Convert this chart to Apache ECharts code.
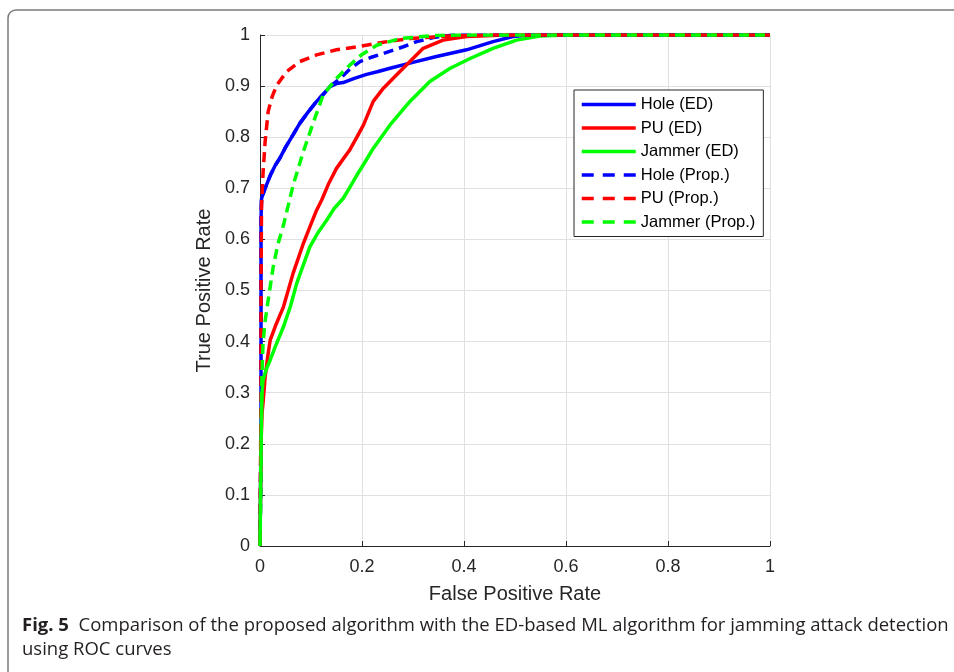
<!DOCTYPE html>
<html>
<head>
<meta charset="utf-8">
<script src="https://cdn.jsdelivr.net/npm/echarts@6.0.0/dist/echarts.min.js"></script>
<style>
  html, body { margin: 0; padding: 0; background: #fff; }
  #chart { width: 954px; height: 672px; }
</style>
</head>
<body>
<div id="chart"></div>
<script>
// ROC curves: [false positive rate, true positive rate]
const holeED = [
  [0, 0], [0.001, 0.1], [0.002, 0.25], [0.002, 0.4], [0.002, 0.55], [0.002, 0.64],
  [0.003, 0.68], [0.01, 0.70], [0.02, 0.725], [0.03, 0.745], [0.039, 0.759],
  [0.05, 0.78], [0.065, 0.805], [0.078, 0.827], [0.095, 0.85], [0.111, 0.87],
  [0.125, 0.885], [0.137, 0.899], [0.15, 0.905], [0.163, 0.907], [0.185, 0.915],
  [0.209, 0.923], [0.23, 0.928], [0.255, 0.935], [0.294, 0.945], [0.346, 0.958],
  [0.405, 0.971], [0.457, 0.987], [0.496, 0.997], [0.53, 1], [1, 1]
];
const puED = [
  [0, 0], [0.001, 0.1], [0.002, 0.2], [0.004, 0.26], [0.006, 0.28], [0.01, 0.33],
  [0.015, 0.37], [0.02, 0.403], [0.03, 0.43], [0.046, 0.468], [0.065, 0.534],
  [0.085, 0.592], [0.098, 0.625], [0.11, 0.655], [0.121, 0.677], [0.135, 0.71],
  [0.15, 0.739], [0.165, 0.76], [0.176, 0.775], [0.19, 0.8], [0.203, 0.824],
  [0.222, 0.87], [0.242, 0.896], [0.268, 0.922], [0.294, 0.948], [0.32, 0.974],
  [0.359, 0.99], [0.405, 0.997], [0.48, 1], [1, 1]
];
const jammerED = [
  [0, 0], [0.001, 0.1], [0.002, 0.2], [0.003, 0.26], [0.004, 0.3], [0.006, 0.325],
  [0.012, 0.345], [0.02, 0.364], [0.03, 0.39], [0.046, 0.429], [0.06, 0.47],
  [0.072, 0.514], [0.085, 0.55], [0.098, 0.586], [0.115, 0.615], [0.131, 0.638],
  [0.145, 0.66], [0.163, 0.68], [0.175, 0.7], [0.19, 0.726], [0.205, 0.75],
  [0.222, 0.778], [0.255, 0.824], [0.294, 0.87], [0.333, 0.909], [0.373, 0.935],
  [0.412, 0.954], [0.457, 0.974], [0.503, 0.99], [0.549, 0.998], [0.6, 1], [1, 1]
];
const holeProp = [
  [0, 0], [0.001, 0.1], [0.002, 0.25], [0.002, 0.4], [0.002, 0.55], [0.002, 0.64],
  [0.003, 0.68], [0.01, 0.70], [0.02, 0.725], [0.03, 0.745], [0.039, 0.759],
  [0.05, 0.78], [0.065, 0.805], [0.078, 0.827], [0.095, 0.85], [0.111, 0.87],
  [0.125, 0.885], [0.137, 0.899], [0.157, 0.915], [0.175, 0.932], [0.196, 0.948],
  [0.22, 0.957], [0.242, 0.964], [0.281, 0.977], [0.307, 0.987], [0.34, 0.995],
  [0.38, 1], [1, 1]
];
const puProp = [
  [0, 0], [0.001, 0.15], [0.002, 0.3], [0.002, 0.5], [0.003, 0.667], [0.006, 0.73],
  [0.01, 0.791], [0.016, 0.85], [0.024, 0.88], [0.033, 0.902], [0.052, 0.928],
  [0.078, 0.948], [0.111, 0.961], [0.15, 0.971], [0.19, 0.977], [0.242, 0.986],
  [0.294, 0.993], [0.373, 0.998], [0.45, 1], [1, 1]
];
const jammerProp = [
  [0, 0], [0.002, 0.15], [0.003, 0.3], [0.005, 0.37], [0.006, 0.397], [0.01, 0.44],
  [0.016, 0.481], [0.026, 0.547], [0.035, 0.59], [0.046, 0.628], [0.055, 0.665],
  [0.065, 0.706], [0.085, 0.772], [0.105, 0.83], [0.124, 0.883], [0.15, 0.915],
  [0.176, 0.941], [0.2, 0.962], [0.229, 0.98], [0.275, 0.993], [0.34, 0.999],
  [0.4, 1], [1, 1]
];

const seriesNames = ["Hole (ED)", "PU (ED)", "Jammer (ED)", "Hole (Prop.)", "PU (Prop.)", "Jammer (Prop.)"];
const seriesData = [holeED, puED, jammerED, holeProp, puProp, jammerProp];
const seriesColors = ["#0000ff", "#ff0000", "#00ff00", "#0000ff", "#ff0000", "#00ff00"];
const seriesDashed = [false, false, false, true, true, true];

const captionBold = "Fig. 5";
const captionLine1 = "Comparison of the proposed algorithm with the ED-based ML algorithm for jamming attack detection";
const captionLine2 = "using ROC curves";

const FONT = "'Liberation Sans', Arial, sans-serif";
const CAPTION_FONT = "'Open Sans', sans-serif";
const AXIS_COLOR = "#262626";

const chart = echarts.init(document.getElementById("chart"));

chart.setOption({
  animation: false,
  backgroundColor: "#ffffff",
  grid: { left: 260, top: 35, width: 510, height: 511, containLabel: false },
  legend: {
    orient: "vertical",
    left: 574,
    top: 90,
    padding: [6, 8, 6, 6],
    itemGap: 6.5,
    itemWidth: 54,
    itemHeight: 14,
    backgroundColor: "#ffffff",
    borderColor: AXIS_COLOR,
    borderWidth: 1,
    // hide the symbol the legend puts on line icons, keep the line
    itemStyle: { opacity: 0 },
    lineStyle: { width: 3.5 },
    textStyle: { fontFamily: FONT, fontSize: 16.5, color: "#000" },
    data: seriesNames.map((name, i) => ({
      name: name,
      lineStyle: { width: 3.5, type: seriesDashed[i] ? [12, 9] : "solid" },
    })),
  },
  xAxis: {
    type: "value",
    min: 0, max: 1, interval: 0.2,
    name: "False Positive Rate",
    nameLocation: "middle",
    nameGap: 38,
    nameTextStyle: { fontFamily: FONT, fontSize: 20, color: AXIS_COLOR },
    axisLine: { show: true, lineStyle: { color: AXIS_COLOR, width: 1 } },
    axisTick: { show: true, inside: true, length: 5, lineStyle: { color: AXIS_COLOR } },
    axisLabel: {
      fontFamily: FONT, fontSize: 18, color: AXIS_COLOR, margin: 12,
      formatter: v => String(Math.round(v * 10) / 10),
    },
    splitLine: { show: true, lineStyle: { color: "#e0e0e0", width: 1 } },
  },
  yAxis: {
    type: "value",
    min: 0, max: 1, interval: 0.1,
    name: "True Positive Rate",
    nameLocation: "middle",
    nameGap: 37,
    nameTextStyle: { fontFamily: FONT, fontSize: 20, color: AXIS_COLOR },
    axisLine: { show: true, lineStyle: { color: AXIS_COLOR, width: 1 } },
    axisTick: { show: true, inside: true, length: 5, lineStyle: { color: AXIS_COLOR } },
    axisLabel: {
      fontFamily: FONT, fontSize: 18, color: AXIS_COLOR, margin: 10,
      formatter: v => String(Math.round(v * 10) / 10),
    },
    splitLine: { show: true, lineStyle: { color: "#e0e0e0", width: 1 } },
  },
  series: seriesNames.map((name, i) => ({
    name: name,
    type: "line",
    data: seriesData[i],
    showSymbol: false,
    symbol: "none",
    color: seriesColors[i],
    lineStyle: {
      color: seriesColors[i],
      width: 3.5,
      type: seriesDashed[i] ? [10, 6] : "solid",
    },
    z: 2 + i,
  })),
  graphic: [
    {
      type: "rect",
      shape: { x: 8, y: 10, width: 1000, height: 720, r: 8 },
      style: { fill: "none", stroke: "#7a7a7a", lineWidth: 1.5 },
      silent: true,
    },
    {
      type: "text",
      left: 22,
      top: 616,
      style: {
        text: "{b|" + captionBold + "}  " + captionLine1,
        font: "18.5px " + CAPTION_FONT,
        fill: "#231f20",
        rich: {
          b: { fontFamily: CAPTION_FONT, fontWeight: "bold", fontSize: 18.5, fill: "#231f20" },
        },
      },
    },
    {
      type: "text",
      left: 22,
      top: 640,
      style: {
        text: captionLine2,
        font: "18.5px " + CAPTION_FONT,
        fill: "#231f20",
      },
    },
  ],
});
</script>
</body>
</html>
